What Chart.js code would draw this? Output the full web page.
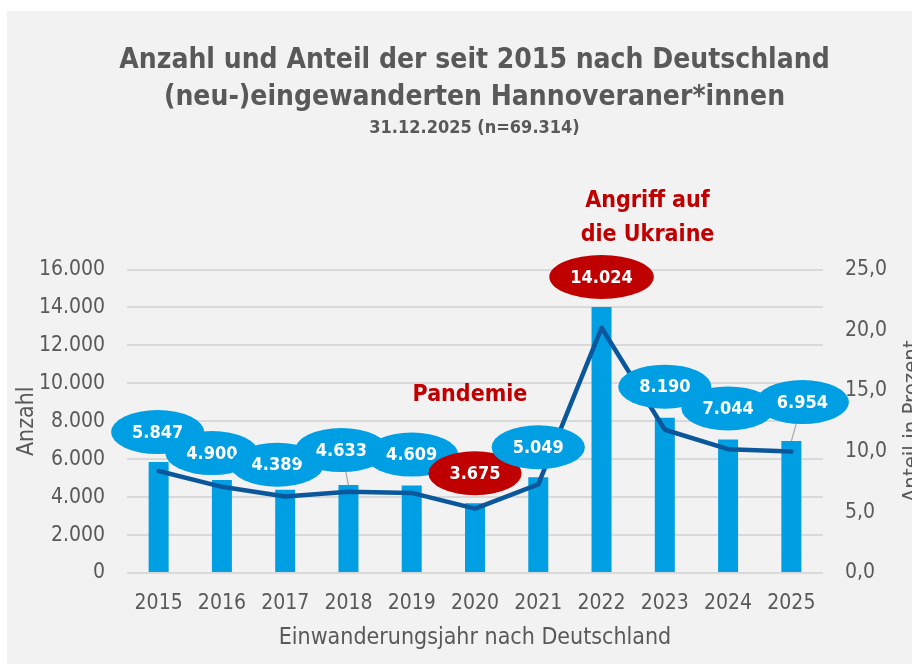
<!DOCTYPE html>
<html lang="de">
<head>
<meta charset="utf-8">
<title>Eingewanderte Hannoveraner*innen</title>
<script src="https://cdn.jsdelivr.net/npm/chart.js@4.4.1/dist/chart.umd.min.js"></script>
<style>
  html, body { margin: 0; padding: 0; background: #fff; overflow: hidden; width: 912px; height: 664px; }
  /* the chart is a bit wider than the window, the right edge is cut off like in the original */
  #wrap { position: absolute; left: 7px; top: 11px; width: 935px; height: 653px; background: #f2f2f2; }
</style>
</head>
<body>
<div id="wrap"><canvas id="chart"></canvas></div>
<script>
// --- data ---
const years = ['2015', '2016', '2017', '2018', '2019', '2020', '2021', '2022', '2023', '2024', '2025'];
const anzahl = [5847, 4900, 4389, 4633, 4609, 3675, 5049, 14024, 8190, 7044, 6954];
const anteil = [8.4, 7.1, 6.3, 6.7, 6.6, 5.3, 7.3, 20.2, 11.8, 10.2, 10.0];
const highlightYears = ['2020', '2022'];
const anzahlMax = 16000, anzahlStep = 2000;
const anteilMax = 25, anteilStep = 5;

const FONT = '"DejaVu Sans Condensed", "Liberation Sans Narrow", sans-serif';
const GREY = '#595959';
const BLUE = '#009fe3';
const RED = '#c00000';

// 16000 -> "16.000", 25 -> "25,0"
const fmtThousands = v => String(v).replace(/\B(?=(\d{3})+(?!\d))/g, '.');
const fmtOneDec = v => v.toFixed(1).replace('.', ',');

// ellipse labels above the bars
const bubbleLabels = {
    id: 'bubbleLabels',
    afterDatasetsDraw(chart, args, opts) {
        const ctx = chart.ctx;
        const bars = chart.getDatasetMeta(0).data;
        ctx.save();
        ctx.font = 'bold 18px ' + FONT;
        ctx.textAlign = 'center';
        ctx.textBaseline = 'middle';
        bars.forEach((bar, i) => {
            const [dx, dy] = opts.shift[i];
            const cx = bar.x + dx, cy = bar.y + dy;
            const text = fmtThousands(anzahl[i]);
            const rx = ctx.measureText(text).width / 2 + 21, ry = 22;
            if (opts.leader.includes(i)) {
                ctx.strokeStyle = '#a6a6a6';
                ctx.lineWidth = 1.2;
                ctx.beginPath();
                ctx.moveTo(cx, cy);
                ctx.lineTo(bar.x, bar.y);
                ctx.stroke();
            }
            ctx.fillStyle = highlightYears.includes(years[i]) ? RED : BLUE;
            ctx.beginPath();
            ctx.ellipse(cx, cy, rx, ry, 0, 0, Math.PI * 2);
            ctx.fill();
            ctx.fillStyle = '#fff';
            ctx.fillText(text, cx, cy + 1);
        });
        ctx.restore();
    }
};

// red notes + the right axis title (partly cut off at the edge)
const notes = {
    id: 'notes',
    afterDraw(chart, args, opts) {
        const ctx = chart.ctx;
        const x = chart.scales.x, y = chart.scales.y, y1 = chart.scales.y1;
        ctx.save();
        ctx.fillStyle = RED;
        ctx.font = 'bold 23px ' + FONT;
        ctx.textAlign = 'center';
        ctx.textBaseline = 'middle';
        opts.items.forEach(n => {
            const px = x.getPixelForValue(n.index) + n.dx;
            const py = y.getPixelForValue(n.value);
            n.lines.forEach((line, k) => ctx.fillText(line, px, py + k * 34));
        });

        ctx.fillStyle = GREY;
        ctx.font = '22px ' + FONT;
        ctx.translate(opts.rightTitleX, (y1.top + y1.bottom) / 2);
        ctx.rotate(-Math.PI / 2);
        ctx.fillText('Anteil in Prozent', 0, 0);
        ctx.restore();
    }
};

const ctx = document.getElementById('chart').getContext('2d');

new Chart(ctx, {
    data: {
        labels: years,
        datasets: [
            {
                type: 'bar',
                label: 'Anzahl',
                data: anzahl,
                yAxisID: 'y',
                backgroundColor: BLUE,
                categoryPercentage: 1,
                barPercentage: 0.316,
                order: 2
            },
            {
                type: 'line',
                label: 'Anteil in Prozent',
                data: anteil,
                yAxisID: 'y1',
                borderColor: '#0a579c',
                borderWidth: 4.5,
                borderJoinStyle: 'round',
                borderCapStyle: 'round',
                pointRadius: 0,
                tension: 0,
                order: 1
            }
        ]
    },
    options: {
        responsive: true,
        maintainAspectRatio: false,
        devicePixelRatio: 1,
        animation: false,
        layout: { padding: 0 },
        scales: {
            x: {
                grid: { display: false },
                border: { display: false },
                ticks: { color: GREY, font: { family: FONT, size: 21 }, padding: 10, maxRotation: 0 },
                title: {
                    display: true,
                    text: 'Einwanderungsjahr nach Deutschland',
                    color: GREY,
                    font: { family: FONT, size: 23 },
                    padding: { top: 0, bottom: 12 }
                },
                afterFit: s => { s.height = 91; }
            },
            y: {
                position: 'left',
                min: 0,
                max: anzahlMax,
                grid: { color: '#d9d9d9', lineWidth: 2, drawTicks: false },
                border: { display: false },
                ticks: {
                    stepSize: anzahlStep,
                    color: GREY,
                    font: { family: FONT, size: 21 },
                    padding: 22,
                    callback: v => fmtThousands(v)
                },
                title: {
                    display: true,
                    text: 'Anzahl',
                    color: GREY,
                    font: { family: FONT, size: 23 },
                    padding: { top: 6, bottom: 0 }
                },
                afterFit: s => { s.width = 120; }
            },
            y1: {
                position: 'right',
                min: 0,
                max: anteilMax,
                grid: { display: false, drawTicks: false },
                border: { display: false },
                ticks: {
                    stepSize: anteilStep,
                    color: GREY,
                    font: { family: FONT, size: 21 },
                    padding: 22,
                    callback: v => fmtOneDec(v)
                },
                afterFit: s => { s.width = 119; }
            }
        },
        plugins: {
            legend: { display: false },
            tooltip: { enabled: false },
            title: {
                display: true,
                text: ['Anzahl und Anteil der seit 2015 nach Deutschland', '(neu-)eingewanderten Hannoveraner*innen'],
                color: GREY,
                font: { family: FONT, size: 28, weight: 'bold', lineHeight: 1.32 },
                padding: { top: 31, bottom: 2 }
            },
            subtitle: {
                display: true,
                text: '31.12.2025 (n=69.314)',
                color: GREY,
                font: { family: FONT, size: 18, weight: 'bold', lineHeight: 1.2 },
                padding: { top: 0, bottom: 130 }
            },
            bubbleLabels: {
                shift: [[-1, -30], [-10, -27], [-8, -25], [-7, -35], [0, -31], [0, -30],
                        [0, -30], [0, -30], [0, -31], [0, -31], [11, -39]],
                leader: [3, 10]
            },
            notes: {
                items: [
                    { lines: ['Pandemie'], index: 5, dx: -5, value: 9400 },
                    { lines: ['Angriff auf', 'die Ukraine'], index: 7, dx: 46, value: 19600 }
                ],
                rightTitleX: 905
            }
        }
    },
    plugins: [bubbleLabels, notes]
});
</script>
</body>
</html>
